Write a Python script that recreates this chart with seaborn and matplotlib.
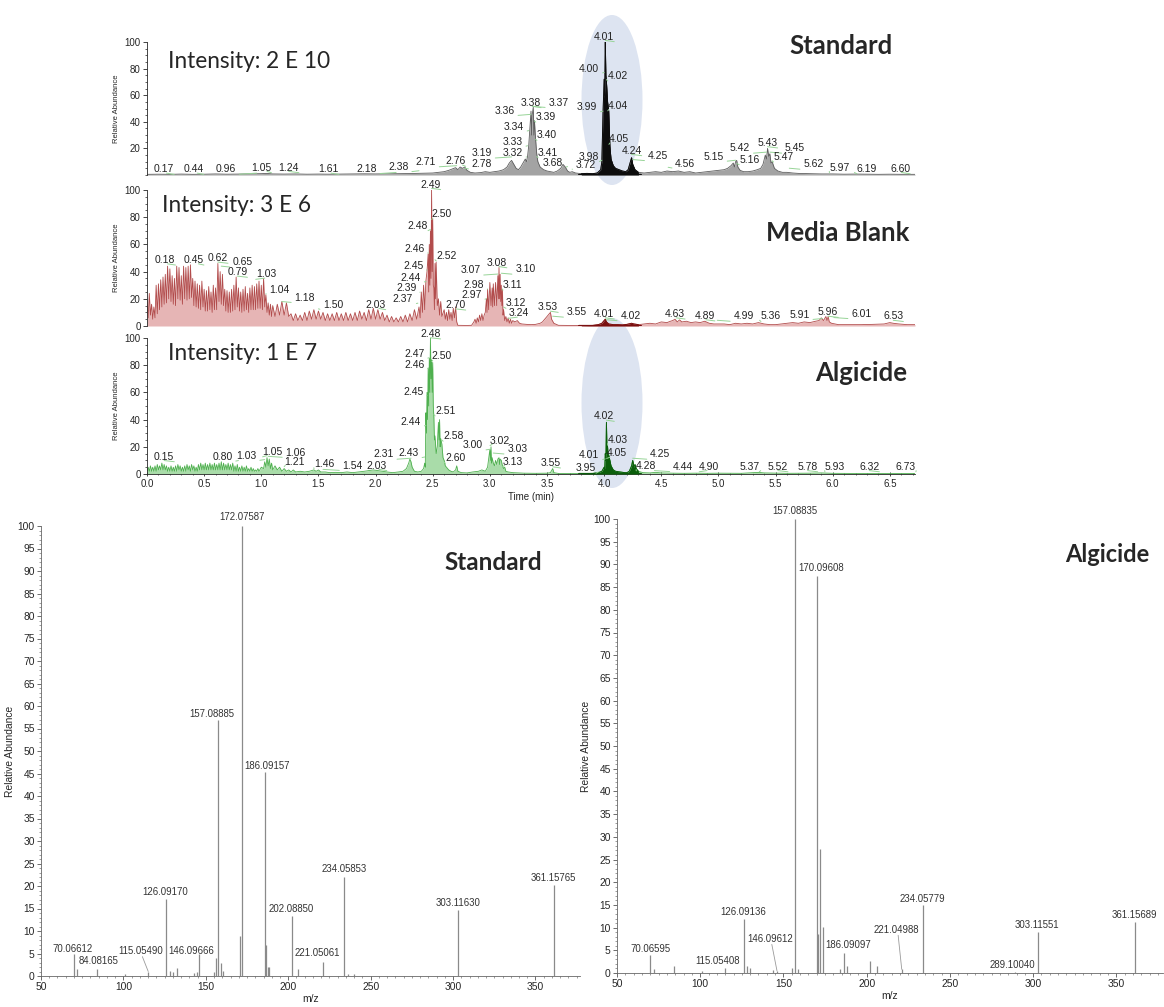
"""LC chromatograms (Standard / Media Blank / Algicide) and MS/MS spectra."""
import numpy as np
import matplotlib
matplotlib.use('Agg')
import matplotlib.pyplot as plt
from matplotlib.patches import Ellipse
from matplotlib.ticker import MultipleLocator
from matplotlib import font_manager
import seaborn as sns

sns.set_theme(style='ticks')
plt.rcParams['font.family'] = ['Liberation Sans', 'DejaVu Sans']
plt.rcParams['axes.linewidth'] = 0.6
plt.rcParams['xtick.major.width'] = 0.6
plt.rcParams['ytick.major.width'] = 0.6
plt.rcParams['xtick.minor.width'] = 0.5
plt.rcParams['ytick.minor.width'] = 0.5

# ---------------- chromatogram traces (time, relative abundance) ----------------
std_t = [0.00, 0.10, 0.20, 0.30, 0.40, 0.50, 0.60, 0.70, 0.80, 0.90, 1.00, 1.05, 1.10, 1.20, 1.30,
         1.40, 1.50, 1.60, 1.70, 1.80, 1.90, 2.00, 2.10, 2.20, 2.30, 2.40, 2.50, 2.55, 2.60, 2.64,
         2.67, 2.70, 2.72, 2.74, 2.76, 2.78, 2.80, 2.83, 2.87, 2.92, 2.96, 3.00, 3.04, 3.08, 3.12,
         3.15, 3.17, 3.19, 3.21, 3.23, 3.25, 3.27, 3.29, 3.31, 3.32, 3.33, 3.34, 3.35, 3.36, 3.365,
         3.37, 3.38, 3.385, 3.39, 3.40, 3.41, 3.42, 3.44, 3.47, 3.50, 3.53, 3.56, 3.59, 3.62, 3.64,
         3.66, 3.68, 3.70, 3.72, 3.75, 3.80, 3.85, 3.90, 3.94, 3.97, 3.98, 3.99, 4.00, 4.005, 4.01,
         4.015, 4.02, 4.03, 4.04, 4.05, 4.06, 4.08, 4.10, 4.13, 4.16, 4.19, 4.21, 4.23, 4.24, 4.25,
         4.27, 4.30, 4.35, 4.40, 4.45, 4.50, 4.55, 4.60, 4.65, 4.70, 4.75, 4.80, 4.85, 4.90, 4.95,
         5.00, 5.05, 5.08, 5.11, 5.13, 5.14, 5.15, 5.16, 5.17, 5.19, 5.22, 5.26, 5.30, 5.34, 5.37,
         5.39, 5.41, 5.42, 5.43, 5.44, 5.45, 5.46, 5.47, 5.49, 5.52, 5.56, 5.60, 5.65, 5.70, 5.80,
         5.90, 6.00, 6.10, 6.20, 6.30, 6.40, 6.50, 6.60, 6.72]
std_y = [0.5, 0.6, 0.5, 0.7, 0.5, 0.6, 0.8, 0.6, 0.7, 0.9, 1.0, 1.2, 0.8, 0.7, 0.8,
         0.6, 0.7, 0.6, 0.7, 0.8, 0.9, 0.8, 0.9, 1.0, 1.1, 1.3, 1.5, 2.0, 2.5, 3.5,
         4.5, 5.5, 4.0, 6.0, 5.0, 6.0, 3.5, 2.0, 1.5, 1.8, 2.5, 2.0, 2.5, 3.0, 4.0,
         6.0, 9.0, 11.0, 8.0, 5.0, 4.0, 6.0, 9.0, 12.0, 10.0, 14.0, 22.0, 35.0, 48.0, 30.0,
         45.0, 51.0, 30.0, 41.0, 27.0, 16.0, 10.0, 6.0, 4.0, 3.0, 2.5, 2.0, 3.0, 5.0, 8.0,
         6.0, 3.0, 2.0, 2.5, 1.5, 1.0, 1.2, 1.0, 1.5, 4.0, 10.0, 46.0, 72.0, 60.0, 100.0,
         75.0, 70.0, 55.0, 48.0, 22.0, 12.0, 7.0, 5.0, 4.0, 3.0, 2.5, 4.0, 10.0, 13.0, 8.0,
         4.0, 2.0, 1.5, 2.0, 2.5, 2.0, 3.0, 2.5, 3.0, 2.0, 2.5, 1.5, 2.0, 2.5, 3.0,
         3.5, 4.0, 5.0, 7.0, 9.0, 6.0, 10.0, 11.0, 6.0, 3.5, 2.5, 2.5, 3.0, 4.0, 5.0,
         8.0, 15.0, 12.0, 20.0, 14.0, 16.0, 9.0, 10.0, 5.0, 3.0, 2.0, 2.0, 1.5, 1.2, 1.0,
         0.8, 0.8, 0.6, 0.7, 0.6, 0.5, 0.6, 0.5, 0.5]

mb_t = [0.00, 0.01, 0.02, 0.03, 0.04, 0.05, 0.06, 0.07, 0.08, 0.09, 0.10, 0.11, 0.12, 0.13, 0.14,
        0.15, 0.16, 0.17, 0.18, 0.19, 0.20, 0.21, 0.22, 0.23, 0.24, 0.25, 0.26, 0.27, 0.28, 0.29,
        0.30, 0.31, 0.32, 0.33, 0.34, 0.35, 0.36, 0.37, 0.38, 0.39, 0.40, 0.41, 0.42, 0.43, 0.44,
        0.45, 0.46, 0.47, 0.48, 0.49, 0.50, 0.51, 0.52, 0.53, 0.54, 0.55, 0.56, 0.57, 0.58, 0.59,
        0.60, 0.61, 0.62, 0.63, 0.64, 0.65, 0.66, 0.67, 0.68, 0.69, 0.70, 0.71, 0.72, 0.73, 0.74,
        0.75, 0.76, 0.77, 0.78, 0.79, 0.80, 0.81, 0.82, 0.83, 0.84, 0.85, 0.86, 0.87, 0.88, 0.89,
        0.90, 0.91, 0.92, 0.93, 0.94, 0.95, 0.96, 0.97, 0.98, 0.99, 1.00, 1.01, 1.02, 1.03, 1.04,
        1.05, 1.06, 1.07, 1.08, 1.09, 1.10, 1.12, 1.14, 1.16, 1.18, 1.20, 1.22, 1.24, 1.26, 1.28,
        1.30, 1.32, 1.34, 1.36, 1.38, 1.40, 1.42, 1.44, 1.46, 1.48, 1.50, 1.52, 1.54, 1.56, 1.58,
        1.60, 1.62, 1.64, 1.66, 1.68, 1.70, 1.72, 1.74, 1.76, 1.78, 1.80, 1.82, 1.84, 1.86, 1.88,
        1.90, 1.92, 1.94, 1.96, 1.98, 2.00, 2.02, 2.04, 2.06, 2.08, 2.10, 2.12, 2.14, 2.16, 2.18,
        2.20, 2.22, 2.24, 2.26, 2.28, 2.30, 2.32, 2.34, 2.36, 2.38, 2.39, 2.40, 2.41, 2.42, 2.43,
        2.44, 2.45, 2.46, 2.465, 2.47, 2.475, 2.48, 2.485, 2.49, 2.495, 2.50, 2.505, 2.51, 2.515, 2.52,
        2.525, 2.53, 2.54, 2.55, 2.56, 2.57, 2.58, 2.60, 2.61, 2.62, 2.63, 2.64, 2.65, 2.66, 2.67,
        2.68, 2.69, 2.70, 2.71, 2.72, 2.80, 2.84, 2.86, 2.87, 2.88, 2.89, 2.90, 2.91, 2.92, 2.93,
        2.94, 2.95, 2.96, 2.97, 2.975, 2.98, 2.99, 3.00, 3.01, 3.02, 3.025, 3.03, 3.04, 3.05, 3.06,
        3.07, 3.075, 3.08, 3.085, 3.09, 3.095, 3.10, 3.105, 3.11, 3.115, 3.12, 3.13, 3.14, 3.15, 3.16,
        3.17, 3.18, 3.19, 3.20, 3.22, 3.24, 3.26, 3.28, 3.32, 3.36, 3.40, 3.44, 3.46, 3.48, 3.50,
        3.52, 3.53, 3.54, 3.56, 3.60, 3.70, 3.80, 3.90, 3.95, 3.98, 4.00, 4.01, 4.02, 4.04, 4.08,
        4.12, 4.16, 4.20, 4.24, 4.26, 4.30, 4.35, 4.40, 4.45, 4.50, 4.55, 4.58, 4.60, 4.62, 4.64,
        4.66, 4.68, 4.72, 4.76, 4.80, 4.84, 4.88, 4.92, 4.96, 5.00, 5.05, 5.10, 5.15, 5.20, 5.25,
        5.30, 5.35, 5.40, 5.45, 5.50, 5.55, 5.60, 5.65, 5.70, 5.75, 5.80, 5.85, 5.88, 5.90, 5.92,
        5.94, 5.95, 5.96, 5.97, 5.99, 6.05, 6.15, 6.25, 6.35, 6.45, 6.50, 6.53, 6.58, 6.65, 6.72]
mb_y = [19, 6, 24, 8, 16, 5, 14, 6, 30, 9, 31, 12, 34, 14, 36,
        16, 38, 17, 44, 20, 42, 18, 37, 16, 35, 15, 44, 20, 43, 19,
        37, 16, 44, 20, 43, 19, 44, 20, 45, 21, 35, 15, 33, 14, 31,
        13, 30, 12, 33, 14, 27, 11, 26, 11, 29, 12, 25, 10, 30, 12,
        28, 12, 46, 18, 40, 16, 38, 15, 27, 11, 26, 10, 25, 10, 27,
        11, 30, 12, 36, 14, 28, 11, 25, 10, 27, 11, 29, 12, 24, 10,
        28, 12, 30, 12, 29, 12, 31, 13, 33, 13, 30, 12, 35, 14, 23,
        10, 17, 8, 16, 7, 15, 7, 16, 8, 18, 8, 17, 7, 9, 4,
        9, 4, 8, 4, 10, 4, 11, 5, 12, 5, 11, 5, 10, 4, 9,
        4, 9, 4, 10, 4, 9, 4, 10, 4, 9, 4, 10, 4, 11, 5,
        10, 4, 12, 5, 13, 5, 12, 5, 10, 4, 8, 3, 7, 3, 6,
        3, 7, 3, 8, 3, 9, 4, 12, 5, 14, 6, 25, 10, 30, 12,
        33, 40, 53, 25, 60, 30, 70, 35, 100, 40, 79, 30, 28, 12, 46,
        20, 47, 15, 20, 8, 18, 7, 12, 5, 10, 4, 12, 5, 10, 4,
        13, 6, 14, 3, 0.5, 0.4, 0.5, 3, 5, 2, 6, 3, 8, 4, 9,
        4, 8, 10, 20, 10, 27, 12, 32, 15, 28, 14, 31, 15, 32, 15,
        37, 20, 43, 20, 38, 18, 30, 15, 27, 8, 12, 4, 7, 3, 6,
        2, 5, 2, 4, 3, 4, 2, 1.5, 1.2, 1.0, 1.2, 2, 3, 5, 7,
        9, 10, 5, 2, 0.5, 0.4, 0.3, 0.4, 1.0, 2, 4, 5, 3, 1.5, 1.0,
        1.0, 0.8, 1.2, 2, 1.5, 1.0, 1.5, 2, 1.5, 3, 2.5, 3.5, 4, 5, 3,
        4.5, 3, 3.5, 2.5, 3, 2.5, 3.5, 2, 1.5, 1.5, 1.5, 1, 2, 1.5, 2,
        1.5, 2.5, 1.5, 1.0, 1, 1.5, 2, 2.5, 2, 3, 2.5, 3.5, 4, 6, 4,
        7, 4, 7, 3, 2, 1, 1, 1, 1.2, 1.5, 2.5, 2, 1.5, 1, 1]

alg_t = [0.00, 0.01, 0.02, 0.03, 0.04, 0.05, 0.06, 0.07, 0.08, 0.09, 0.10, 0.11, 0.12, 0.13, 0.14,
         0.15, 0.16, 0.17, 0.18, 0.19, 0.20, 0.21, 0.22, 0.23, 0.24, 0.25, 0.26, 0.27, 0.28, 0.29,
         0.30, 0.31, 0.32, 0.33, 0.34, 0.35, 0.36, 0.37, 0.38, 0.39, 0.40, 0.41, 0.42, 0.43, 0.44,
         0.45, 0.46, 0.47, 0.48, 0.49, 0.50, 0.51, 0.52, 0.53, 0.54, 0.55, 0.56, 0.57, 0.58, 0.59,
         0.60, 0.61, 0.62, 0.63, 0.64, 0.65, 0.66, 0.67, 0.68, 0.69, 0.70, 0.71, 0.72, 0.73, 0.74,
         0.75, 0.76, 0.77, 0.78, 0.79, 0.80, 0.81, 0.82, 0.83, 0.84, 0.85, 0.86, 0.87, 0.88, 0.89,
         0.90, 0.91, 0.92, 0.93, 0.94, 0.95, 0.96, 0.97, 0.98, 1.00, 1.02, 1.03, 1.04, 1.05, 1.06,
         1.07, 1.08, 1.09, 1.10, 1.12, 1.14, 1.16, 1.18, 1.20, 1.22, 1.24, 1.26, 1.28, 1.30, 1.34,
         1.38, 1.42, 1.46, 1.48, 1.50, 1.52, 1.56, 1.60, 1.65, 1.70, 1.75, 1.80, 1.85, 1.90, 1.94,
         1.98, 2.02, 2.06, 2.10, 2.15, 2.20, 2.24, 2.27, 2.29, 2.30, 2.31, 2.32, 2.34, 2.37, 2.40,
         2.42, 2.43, 2.435, 2.44, 2.445, 2.45, 2.455, 2.46, 2.465, 2.47, 2.475, 2.48, 2.485, 2.49, 2.495,
         2.50, 2.505, 2.51, 2.515, 2.52, 2.53, 2.54, 2.545, 2.55, 2.555, 2.56, 2.565, 2.57, 2.58, 2.59,
         2.60, 2.61, 2.62, 2.64, 2.66, 2.68, 2.70, 2.71, 2.72, 2.75, 2.80, 2.85, 2.90, 2.93, 2.96,
         2.98, 3.00, 3.005, 3.01, 3.015, 3.02, 3.03, 3.04, 3.05, 3.06, 3.07, 3.08, 3.085, 3.09, 3.10,
         3.11, 3.12, 3.13, 3.14, 3.16, 3.20, 3.30, 3.40, 3.50, 3.53, 3.55, 3.56, 3.60, 3.70, 3.80,
         3.90, 3.95, 3.98, 4.00, 4.005, 4.01, 4.015, 4.02, 4.025, 4.03, 4.035, 4.04, 4.05, 4.06, 4.08,
         4.10, 4.14, 4.18, 4.20, 4.22, 4.24, 4.25, 4.26, 4.27, 4.28, 4.30, 4.34, 4.40, 4.45, 4.50,
         4.60, 4.70, 4.80, 4.90, 5.00, 5.20, 5.35, 5.40, 5.60, 5.80, 5.90, 6.00, 6.20, 6.40, 6.60,
         6.72]
alg_y = [2, 5, 2, 6, 2, 5, 2, 6, 2, 7, 3, 6, 3, 8, 3,
         7, 3, 6, 2, 5, 2, 6, 2, 5, 2, 6, 2, 7, 3, 6,
         2, 5, 2, 6, 2, 7, 3, 6, 2, 7, 3, 6, 2, 5, 2,
         7, 3, 8, 3, 7, 3, 8, 3, 7, 3, 8, 3, 7, 3, 8,
         3, 7, 3, 8, 3, 9, 3, 8, 3, 7, 3, 8, 3, 7, 3,
         8, 2, 6, 2, 7, 2, 5, 2, 6, 2, 5, 2, 6, 2, 4,
         2, 5, 2, 4, 2, 3, 2, 4, 2, 5, 4, 9, 5, 12, 6,
         11, 4, 8, 3, 6, 3, 5, 2, 4, 2, 3, 1.5, 3, 1.5, 2,
         1.5, 2, 3, 2, 3, 1.5, 1.5, 1, 1.2, 1, 1.5, 1, 1.5, 2, 2.5,
         3, 2.5, 2, 1.5, 1, 1.5, 2, 4, 8, 11, 9, 5, 2, 1.5, 2,
         4, 8, 5, 45, 30, 60, 40, 78, 50, 85, 60, 100, 70, 84, 60,
         82, 50, 42, 25, 28, 15, 20, 30, 38, 25, 40, 20, 26, 22, 12,
         10, 6, 5, 3, 2, 1.5, 3, 6, 2, 1, 0.8, 1.5, 2, 3, 2,
         5, 18, 10, 20, 8, 12, 8, 6, 10, 7, 11, 12, 7, 11, 10,
         6, 4, 5, 2, 1.5, 1, 0.6, 0.5, 0.6, 1, 4, 1, 0.4, 0.3, 0.3,
         0.4, 1, 2, 5, 4, 15, 10, 38, 15, 20, 12, 14, 10, 6, 3,
         2, 1.5, 1, 1, 2, 6, 10, 5, 7, 4, 2, 1, 0.8, 1.2, 0.8,
         0.6, 0.5, 0.6, 0.5, 0.6, 0.5, 1.2, 0.8, 0.5, 0.6, 0.8, 0.5, 0.4, 0.4, 0.4,
         0.4]

# ---------------- chromatogram peak labels ----------------
std_lab = ['0.17', '0.44', '0.96', '1.05', '1.24', '1.61', '2.18', '2.38', '2.71', '2.76', '2.78',
           '3.19', '3.32', '3.33', '3.34', '3.36', '3.38', '3.37', '3.39', '3.40', '3.41', '3.68',
           '3.72', '3.98', '3.99', '4.00', '4.01', '4.02', '4.04', '4.05', '4.24', '4.25', '4.56',
           '5.15', '5.16', '5.42', '5.43', '5.45', '5.47', '5.62', '5.97', '6.19', '6.60']
std_lx = [0.15, 0.41, 0.69, 1.00, 1.24, 1.59, 1.92, 2.20, 2.44, 2.70, 2.93,
          2.93, 3.20, 3.20, 3.21, 3.13, 3.36, 3.60, 3.49, 3.50, 3.51, 3.55,
          3.84, 3.87, 3.85, 3.87, 4.00, 4.12, 4.12, 4.13, 4.24, 4.47, 4.71,
          4.96, 5.27, 5.19, 5.43, 5.67, 5.57, 5.83, 6.06, 6.30, 6.59]
std_ly = [4.2, 4.2, 4.2, 5.5, 5.5, 4.2, 4.7, 6.0, 9.8, 10.3, 7.9,
          16.4, 16.4, 24.8, 36.2, 48.4, 54.4, 54.4, 43.5, 29.7, 16.8, 9.1,
          7.2, 13.9, 50.8, 79.9, 104, 74.5, 52, 26.8, 18.3, 14.4, 8.6,
          13.9, 11.5, 20, 24.1, 20, 13.5, 7.9, 5.5, 4.7, 4.7]

mb_lab = ['0.18', '0.45', '0.62', '0.65', '0.79', '1.03', '1.04', '1.18', '1.50', '2.03', '2.37',
          '2.39', '2.44', '2.45', '2.46', '2.48', '2.49', '2.50', '2.52', '2.70', '2.97', '2.98',
          '3.07', '3.08', '3.10', '3.11', '3.12', '3.24', '3.53', '3.55', '4.01', '4.02', '4.63',
          '4.89', '4.99', '5.36', '5.91', '5.96', '6.01', '6.53']
mb_lx = [0.16, 0.41, 0.62, 0.84, 0.79, 1.04, 1.16, 1.38, 1.63, 2.00, 2.24,
         2.27, 2.31, 2.33, 2.34, 2.37, 2.48, 2.58, 2.62, 2.70, 2.84, 2.86,
         2.83, 3.06, 3.31, 3.20, 3.23, 3.25, 3.51, 3.76, 4.00, 4.23, 4.62,
         4.88, 5.22, 5.46, 5.71, 5.96, 6.25, 6.53]
mb_ly = [48.5, 48.5, 49.8, 46.8, 39.5, 38, 26.5, 20.8, 15.4, 15.7, 19.6,
         27.7, 35.5, 44, 56.6, 73.8, 104, 82, 51.5, 15.4, 22.8, 30,
         41, 46.5, 41.6, 30, 16.7, 9.3, 13.7, 10, 8.8, 7.4, 8.8,
         7.4, 7, 7, 8.3, 10, 9, 7]

alg_lab = ['0.15', '0.80', '1.03', '1.05', '1.06', '1.21', '1.46', '1.54', '2.03', '2.31', '2.43',
           '2.44', '2.45', '2.46', '2.47', '2.48', '2.50', '2.51', '2.58', '2.60', '3.00', '3.02',
           '3.03', '3.13', '3.55', '3.95', '4.01', '4.02', '4.03', '4.05', '4.25', '4.28', '4.44',
           '4.90', '5.37', '5.52', '5.78', '5.93', '6.32', '6.73']
alg_lx = [0.15, 0.66, 0.87, 1.10, 1.30, 1.29, 1.55, 1.80, 2.01, 2.07, 2.29,
          2.31, 2.33, 2.34, 2.34, 2.48, 2.58, 2.61, 2.68, 2.70, 2.85, 3.09,
          3.24, 3.20, 3.53, 3.84, 3.87, 4.00, 4.12, 4.11, 4.49, 4.37, 4.69,
          4.92, 5.27, 5.52, 5.78, 6.02, 6.32, 6.64]
alg_ly = [12.7, 12.7, 13.4, 16.3, 15.8, 9.1, 7.4, 6.2, 6.2, 14.4, 15.3,
          38.5, 60.5, 80.4, 88.3, 103, 86.4, 46.4, 27.8, 11.5, 21, 24.6,
          18.2, 9.1, 8.1, 4.3, 13.9, 42.4, 25.2, 15.1, 14.4, 6, 5.3,
          5.3, 5.3, 5.3, 5.3, 5.3, 5.3, 5.3]

# ---------------- MS/MS spectra (m/z, relative abundance) ----------------
std_mz = [70.06612, 72.0, 84.08165, 101.0, 115.0549, 126.0917, 128.5, 130.0, 132.5, 143.0, 144.5,
          146.09666, 155.0, 156.0, 157.08885, 159.5, 160.5, 171.0, 172.07587, 186.09157, 186.6,
          187.5, 188.5, 202.0885, 206.0, 221.05061, 234.05853, 236.0, 240.0, 303.1163, 361.15765]
std_ab = [5.0, 1.5, 1.6, 0.5, 1.0, 17.2, 1.2, 1.0, 1.8, 0.6, 0.8,
          5.0, 1.0, 4.0, 56.8, 2.8, 1.2, 9.0, 100.0, 45.4, 6.8,
          2.0, 2.0, 13.3, 1.5, 3.2, 22.0, 0.5, 0.5, 14.7, 20.2]
std_ms_lab = ['70.06612', '84.08165', '115.05490', '126.09170', '146.09666', '157.08885',
              '172.07587', '186.09157', '202.08850', '221.05061', '234.05853', '303.11630',
              '361.15765']
std_ms_lx = [69.4, 84.7, 110.5, 125.3, 141.0, 153.9, 171.7, 187.4, 201.8, 217.8, 233.8, 303.0, 361.0]
std_ms_ly = [5.8, 3.1, 5.3, 18.5, 5.3, 58.0, 101.7, 46.5, 14.7, 4.8, 23.5, 16.0, 21.5]

alg_mz = [70.06595, 72.5, 84.0, 101.0, 115.05408, 126.09136, 128.0, 130.0, 144.0, 146.09612,
          155.0, 157.08835, 158.5, 170.09608, 171.0, 172.0, 174.0, 184.0, 186.09097, 188.0, 202.0,
          206.0, 221.04988, 234.05779, 289.1004, 303.11551, 361.15689]
alg_ab = [4.0, 0.8, 1.5, 0.5, 1.0, 12.0, 1.5, 1.0, 0.6, 0.5,
          1.0, 100.0, 0.8, 87.4, 8.7, 27.4, 10.1, 0.8, 4.3, 1.5, 2.7,
          1.5, 0.8, 14.9, 0.3, 9.0, 11.2]
alg_ms_lab = ['70.06595', '115.05408', '126.09136', '146.09612', '157.08835', '170.09608',
              '186.09097', '221.04988', '234.05779', '289.10040', '303.11551', '361.15689']
alg_ms_lx = [70.1, 110.7, 125.9, 142.0, 157.1, 172.8, 188.8, 217.9, 233.5, 287.3, 302.2, 360.7]
alg_ms_ly = [5.1, 2.4, 13.3, 7.3, 101.6, 89.1, 5.9, 9.3, 16.0, 1.5, 10.4, 12.6]

W, H = 1164, 1007
names = {f.name for f in font_manager.fontManager.ttflist}
NARROW = 'Liberation Sans Narrow' in names
ms_family = ['Liberation Sans Narrow', 'Liberation Sans'] if NARROW else ['Liberation Sans']
ms_fs = 8.2 if NARROW else 6.9
TITLE_FONT = ['Lato', 'DejaVu Sans']


def box(left, top, right, bottom):
    return [left / W, 1 - bottom / H, (right - left) / W, (bottom - top) / H]


def draw_trace(ax, t, y, line, fill, dark):
    t = np.asarray(t, dtype=float)
    y = np.asarray(y, dtype=float)
    ax.fill_between(t, 0, y, color=fill, lw=0, zorder=1)
    sns.lineplot(x=t, y=y, ax=ax, color=line, lw=0.6, sort=False, estimator=None, zorder=2)
    m = (t >= 3.78) & (t <= 4.32)
    ax.fill_between(t[m], 0, y[m], color=dark, lw=0, zorder=3)
    sns.lineplot(x=t[m], y=y[m], ax=ax, color=dark, lw=0.7, sort=False, estimator=None, zorder=3)
    ax.plot([3.78, 4.32], [0.3, 0.3], color=dark, lw=1.6, zorder=3)


def draw_peak_labels(ax, labels, lx, ly):
    for s, x, y in zip(labels, lx, ly):
        peak = float(s)
        rel = (1.0, 0.0) if peak >= x else (0.0, 0.0)
        ax.annotate(s, xy=(peak, y - 2.8), xytext=(x, y), ha='center', va='center',
                    fontsize=7.5, color='#222222', annotation_clip=False, zorder=5,
                    arrowprops=dict(arrowstyle='-', color='#97d497', lw=0.7,
                                    shrinkA=0, shrinkB=0, relpos=rel))


def style_chrom(ax, yticks, bottom_axis):
    ax.set_facecolor('none')
    ax.set_xlim(0, 6.72)
    ax.set_ylim(0, 100)
    ax.set_yticks(yticks)
    ax.yaxis.set_minor_locator(MultipleLocator(5))
    ax.tick_params(axis='y', labelsize=7, length=3, pad=1.5, direction='out')
    ax.tick_params(axis='y', which='minor', length=1.8)
    ax.set_ylabel('Relative Abundance', fontsize=5.5, labelpad=3)
    sns.despine(ax=ax, top=True, right=True, bottom=not bottom_axis)
    if bottom_axis:
        ax.set_xticks([0.0, 0.5, 1.0, 1.5, 2.0, 2.5, 3.0, 3.5, 4.0, 4.5, 5.0, 5.5, 6.0, 6.5])
        ax.xaxis.set_minor_locator(MultipleLocator(0.1))
        ax.tick_params(axis='x', labelsize=7, length=3, pad=2, direction='inout')
        ax.tick_params(axis='x', which='minor', length=2, direction='inout')
        ax.set_xlabel('Time (min)', fontsize=7, labelpad=2)
    else:
        ax.set_xticks([])
        ax.set_xlabel('')


fig = plt.figure(figsize=(W / 100, H / 100), dpi=100)

# highlight ellipses behind the 4.0 min peaks
for cy in (100, 403):
    fig.patches.append(Ellipse((612 / W, 1 - cy / H), 61 / W, 170 / H, transform=fig.transFigure,
                               facecolor='#dde4f1', edgecolor='none', zorder=-5))

ax1 = fig.add_axes(box(147, 42, 915, 175))
ax2 = fig.add_axes(box(147, 190, 915, 326))
ax3 = fig.add_axes(box(147, 338, 915, 474))

draw_trace(ax1, std_t, std_y, '#5d5d5d', '#a3a3a3', '#0d0d0d')
draw_trace(ax2, mb_t, mb_y, '#b24c4c', '#e6b5b5', '#7a1010')
draw_trace(ax3, alg_t, alg_y, '#4fb04f', '#a9dca9', '#0b5e0b')
style_chrom(ax1, [20, 40, 60, 80, 100], False)
style_chrom(ax2, [0, 20, 40, 60, 80, 100], False)
style_chrom(ax3, [0, 20, 40, 60, 80, 100], True)
draw_peak_labels(ax1, std_lab, std_lx, std_ly)
draw_peak_labels(ax2, mb_lab, mb_lx, mb_ly)
draw_peak_labels(ax3, alg_lab, alg_lx, alg_ly)

for txt, x, y in [('Intensity: 2 E 10', 168, 61), ('Intensity: 3 E 6', 162, 206),
                  ('Intensity: 1 E 7', 168, 353)]:
    fig.text(x / W, 1 - y / H, txt, ha='left', va='center', fontsize=16.3, family=TITLE_FONT)
for txt, x, y in [('Standard', 841, 46), ('Media Blank', 838, 233), ('Algicide', 861, 373)]:
    fig.text(x / W, 1 - y / H, txt, ha='center', va='center', fontsize=18.5,
             fontweight='bold', family=TITLE_FONT)

# ---------------- MS/MS panels ----------------
ax4 = fig.add_axes(box(41, 526, 580, 976))
ax5 = fig.add_axes(box(617, 519, 1163, 973))


def draw_spectrum(ax, mz, ab, labels, lx, ly, leaders, xmax):
    ax.set_facecolor('none')
    ax.vlines(mz, 0, ab, color='#8a8a8a', lw=0.9)
    for s, x, y in zip(labels, lx, ly):
        ax.text(x, y - 0.9, s, ha='center', va='bottom', fontsize=ms_fs, family=ms_family,
                color='#333333', clip_on=False)
        if s in leaders:
            k = list(mz).index(float(s))
            ax.plot([x + 1.0, float(s)], [y - 1.0, ab[k]], color='#9a9a9a', lw=0.6)
    ax.set_xlim(50, xmax)
    ax.set_ylim(0, 100)
    ax.set_yticks(range(0, 101, 5))
    ax.set_xticks(range(50, 351, 50))
    ax.yaxis.set_minor_locator(MultipleLocator(1))
    ax.xaxis.set_minor_locator(MultipleLocator(5))
    for lab in ax.get_xticklabels() + ax.get_yticklabels():
        lab.set_family(ms_family)
    ax.tick_params(axis='both', labelsize=ms_fs + 0.5, length=3, pad=1.5, direction='out',
                   color='#555555')
    ax.tick_params(axis='both', which='minor', length=1.6, color='#777777')
    ax.set_ylabel('Relative Abundance', fontsize=ms_fs + 0.5, family=ms_family, labelpad=2)
    ax.set_xlabel('m/z', fontsize=ms_fs + 0.5, family=ms_family, labelpad=1)
    sns.despine(ax=ax, top=True, right=True)
    for sp in ('left', 'bottom'):
        ax.spines[sp].set_color('#666666')


draw_spectrum(ax4, std_mz, std_ab, std_ms_lab, std_ms_lx, std_ms_ly, {'115.05490'}, 377)
draw_spectrum(ax5, alg_mz, alg_ab, alg_ms_lab, alg_ms_lx, alg_ms_ly,
              {'146.09612', '221.04988'}, 378)

fig.text(493 / W, 1 - 563 / H, 'Standard', ha='center', va='center', fontsize=17.5,
         fontweight='bold', family=TITLE_FONT)
fig.text(1107 / W, 1 - 555 / H, 'Algicide', ha='center', va='center', fontsize=17,
         fontweight='bold', family=TITLE_FONT)

fig.savefig('out.png', dpi=100, facecolor='white')
plt.close(fig)
